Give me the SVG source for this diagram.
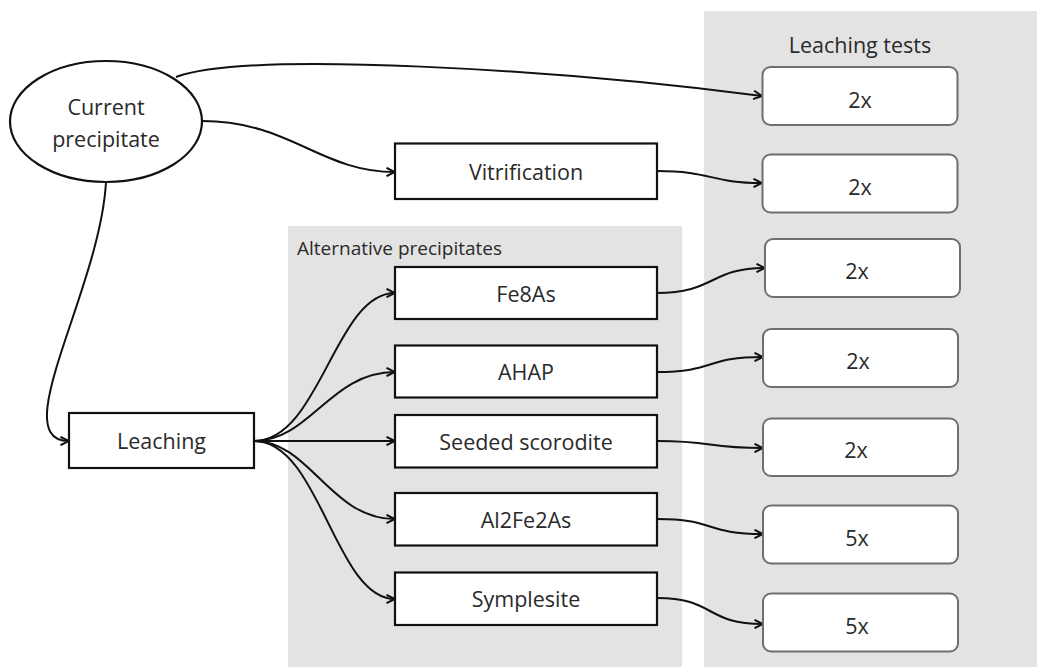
<svg xmlns="http://www.w3.org/2000/svg" width="1037" height="669" viewBox="0 0 1037 669">
  <defs>
    <style>
      .panel { fill: #e3e3e3; }
      .node { fill: #ffffff; stroke: #111111; stroke-width: 2.2; }
      .test { fill: #ffffff; stroke: #6f6f6f; stroke-width: 2; }
      .lbl { font-family: "Open Sans", "Liberation Sans", sans-serif; font-size: 21.5px; fill: #2a2a2a; text-anchor: middle; dominant-baseline: central; }
      .title { font-family: "Open Sans", "Liberation Sans", sans-serif; font-size: 20px; fill: #2a2a2a; }
      .edge { fill: none; stroke: #111111; stroke-width: 2; marker-end: url(#arrow); }
    </style>
    <marker id="arrow" viewBox="0 0 10 10" refX="9.5" refY="5" markerWidth="10" markerHeight="10" markerUnits="userSpaceOnUse" orient="auto">
      <path d="M1,0.8 L9.5,5 L1,9.2" fill="none" stroke="#111111" stroke-width="2"/>
    </marker>
  </defs>

  <rect width="1037" height="669" fill="#ffffff"/>

  <g id="panel-alternative">
    <rect class="panel" x="288" y="226" width="394" height="441"/>
    <text class="title" x="297" y="255" style="font-size:19px">Alternative precipitates</text>
  </g>
  <g id="panel-tests">
    <rect class="panel" x="704" y="11" width="333" height="656"/>
    <text class="title" x="860" y="53" text-anchor="middle" style="font-size:21.5px">Leaching tests</text>
  </g>

  <g id="connectors">
    <path class="edge" d="M176,77 C250,50 560,70 762,96"/>
    <path class="edge" d="M202,121 C290,121 320,172 395,172"/>
    <path class="edge" d="M657,171 C712,171 710,183 762,183"/>
    <path class="edge" d="M106,182 C100,290 5,441 69,441"/>
    <path class="edge" d="M254,441 C320,441 335,293 395,293"/>
    <path class="edge" d="M254,441 C310,441 330,372 395,372"/>
    <path class="edge" d="M254,441 L395,441"/>
    <path class="edge" d="M254,441 C310,441 330,519 395,519"/>
    <path class="edge" d="M254,441 C320,441 335,599 395,599"/>
    <path class="edge" d="M657,293 C715,293 710,268 765,268"/>
    <path class="edge" d="M657,372 C715,372 705,357 763,357"/>
    <path class="edge" d="M657,441 C715,441 705,448 763,448"/>
    <path class="edge" d="M657,519 C715,519 705,534 763,534"/>
    <path class="edge" d="M657,598 C715,598 705,624 763,624"/>
  </g>

  <g id="current-precipitate">
    <ellipse class="node" cx="106" cy="121.5" rx="96" ry="60.5"/>
    <text class="lbl" x="106" y="106">Current</text>
    <text class="lbl" x="106" y="138">precipitate</text>
  </g>
  <g id="vitrification">
    <rect class="node" x="395" y="143.5" width="262" height="55.5"/>
    <text class="lbl" x="526" y="171">Vitrification</text>
  </g>
  <g id="leaching">
    <rect class="node" x="69" y="413" width="185" height="55"/>
    <text class="lbl" x="161.5" y="440.5">Leaching</text>
  </g>
  <g id="fe8as">
    <rect class="node" x="395" y="267" width="262" height="52"/>
    <text class="lbl" x="526" y="293">Fe8As</text>
  </g>
  <g id="ahap">
    <rect class="node" x="395" y="345.5" width="262" height="52"/>
    <text class="lbl" x="526" y="371.5">AHAP</text>
  </g>
  <g id="seeded-scorodite">
    <rect class="node" x="395" y="415" width="262" height="52.5"/>
    <text class="lbl" x="526" y="441">Seeded scorodite</text>
  </g>
  <g id="al2fe2as">
    <rect class="node" x="395" y="493" width="262" height="52.5"/>
    <text class="lbl" x="526" y="519">Al2Fe2As</text>
  </g>
  <g id="symplesite">
    <rect class="node" x="395" y="572.5" width="262" height="52.5"/>
    <text class="lbl" x="526" y="598.5">Symplesite</text>
  </g>

  <g id="test-1">
    <rect class="test" x="762.5" y="67" width="195" height="58" rx="8"/>
    <text class="lbl" x="860" y="99">2x</text>
  </g>
  <g id="test-2">
    <rect class="test" x="762.5" y="154.5" width="195" height="58" rx="8"/>
    <text class="lbl" x="860" y="186">2x</text>
  </g>
  <g id="test-3">
    <rect class="test" x="765" y="239" width="195" height="58" rx="8"/>
    <text class="lbl" x="857" y="270">2x</text>
  </g>
  <g id="test-4">
    <rect class="test" x="763" y="329" width="195" height="58" rx="8"/>
    <text class="lbl" x="858" y="360">2x</text>
  </g>
  <g id="test-5">
    <rect class="test" x="763" y="418.5" width="195" height="57.5" rx="8"/>
    <text class="lbl" x="856" y="449">2x</text>
  </g>
  <g id="test-6">
    <rect class="test" x="763" y="505.5" width="195" height="58" rx="8"/>
    <text class="lbl" x="857" y="537">5x</text>
  </g>
  <g id="test-7">
    <rect class="test" x="763" y="593.5" width="195" height="58" rx="8"/>
    <text class="lbl" x="857" y="625">5x</text>
  </g>
</svg>
